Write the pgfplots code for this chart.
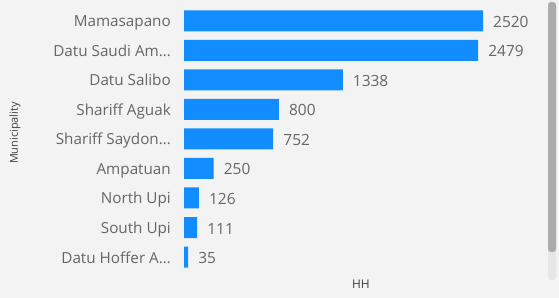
\documentclass[border=0pt]{standalone}
\usepackage{pgfplots}
\pgfplotsset{compat=1.18}
\usepackage{fontspec}
\setmainfont{Open Sans}
\definecolor{bg}{HTML}{F3F3F3}
\definecolor{barblue}{HTML}{118DFF}
\definecolor{lblgray}{HTML}{666666}
\definecolor{titlegray}{HTML}{404040}
\definecolor{scrolldark}{HTML}{ABABAB}
\definecolor{scrolllight}{HTML}{E6E6E6}
\begin{document}
\begin{tikzpicture}
\fill[bg] (0,0) rectangle (559bp,298bp);
\fill[scrolllight, rounded corners=3bp] (548bp,18bp) rectangle (556bp,296bp);
\fill[scrolldark, rounded corners=3bp] (548bp,46bp) rectangle (556bp,296bp);
\begin{axis}[
  at={(184bp,26.2bp)}, anchor=south west,
  scale only axis, width=356bp, height=265.8bp,
  xbar, bar width=21bp,
  xmin=0, xmax=3000, ymin=-0.5, ymax=8.5,
  axis line style={draw=none},
  major tick length=0pt,
  xtick=\empty,
  ytick={0,1,2,3,4,5,6,7,8},
  yticklabels={Datu Hoffer A…, South Upi, North Upi, Ampatuan, Shariff Saydon…, Shariff Aguak, Datu Salibo, Datu Saudi Am…, Mamasapano},
  yticklabel style={font=\fontsize{15.3}{17}\selectfont, text=lblgray, inner sep=0pt, anchor=base east, xshift=-13bp, yshift=-6bp},
  nodes near coords,
  nodes near coords style={font=\fontsize{15.5}{17}\selectfont, text=lblgray, anchor=base west, inner sep=0pt, xshift=10bp, yshift=-6.5bp},
  /pgf/number format/assume math mode=true,
  /pgf/number format/1000 sep={},
  xlabel={HH},
  ylabel={Municipality},
  xlabel style={font=\fontsize{12}{14}\selectfont, text=titlegray, at={(axis description cs:0.497,-0.048)}, anchor=center},
  ylabel style={font=\fontsize{11}{13}\selectfont, text=titlegray, at={(axis description cs:-0.4747,0.522)}, anchor=center, rotate=0},
  clip=false,
]
\addplot[fill=barblue, draw=none] coordinates {
(35,0) (111,1) (126,2) (250,3) (752,4) (800,5) (1338,6) (2479,7) (2520,8)
};
\end{axis}
\end{tikzpicture}
\end{document}
